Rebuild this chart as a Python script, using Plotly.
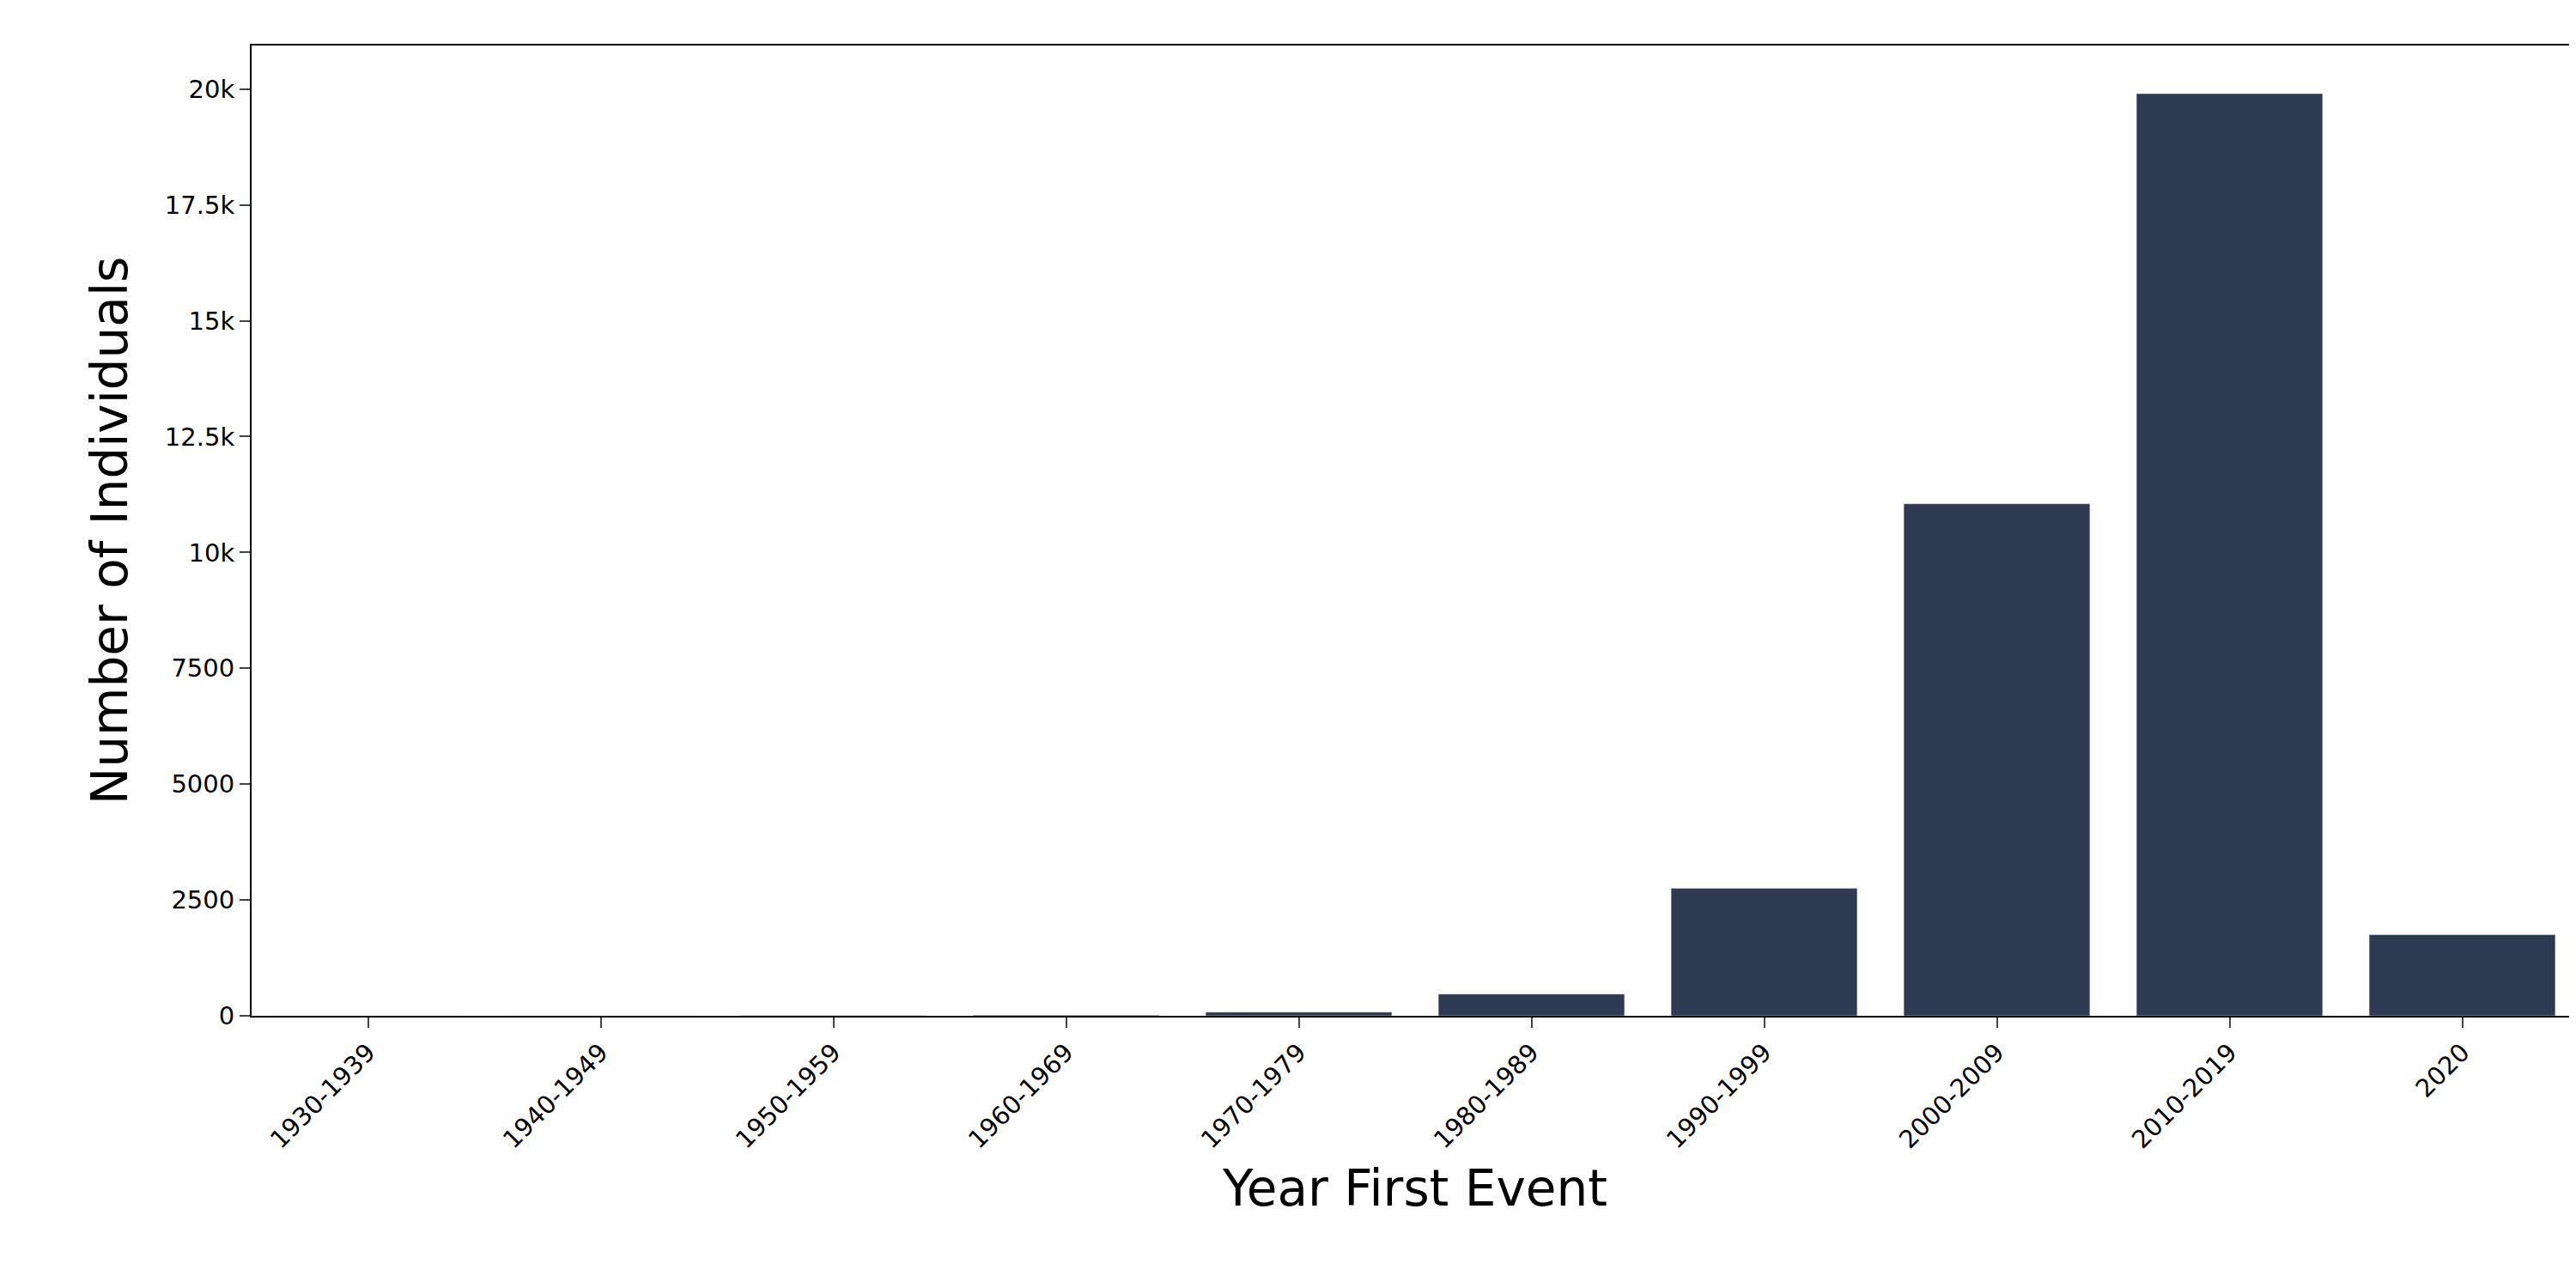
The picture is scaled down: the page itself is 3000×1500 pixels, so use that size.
import plotly.graph_objects as go

categories = ["1930-1939","1940-1949","1950-1959","1960-1969","1970-1979","1980-1989","1990-1999","2000-2009","2010-2019","2020"]
counts = [1, 2, 4, 15, 80, 470, 2750, 11050, 19900, 1750]
y_ticks = [0, 2500, 5000, 7500, 10000, 12500, 15000, 17500, 20000]

fig = go.Figure(go.Bar(x=categories, y=counts, marker_color="#2d3a52", width=0.8))
fig.update_layout(
    width=3000, height=1500, plot_bgcolor="white", paper_bgcolor="white",
    margin=dict(l=285, r=3, t=45, b=325),
    font=dict(family="DejaVu Sans", color="black"),
    showlegend=False,
)
fig.update_xaxes(range=[-0.5, 9.5], tickangle=-45, ticks="outside", ticklen=12, tickwidth=2,
                 showline=True, linecolor="black", linewidth=2, mirror=True,
                 tickfont=dict(size=29), title=dict(text="Year First Event", font=dict(size=58), standoff=20))
fig.update_yaxes(range=[0, 20940], tickvals=y_ticks, ticks="outside", ticklen=12, tickwidth=2,
                 showline=True, linecolor="black", linewidth=2, mirror=True, showgrid=False, zeroline=False,
                 tickfont=dict(size=29), title=dict(text="Number of Individuals", font=dict(size=58), standoff=25))
fig.write_html("out.html")
